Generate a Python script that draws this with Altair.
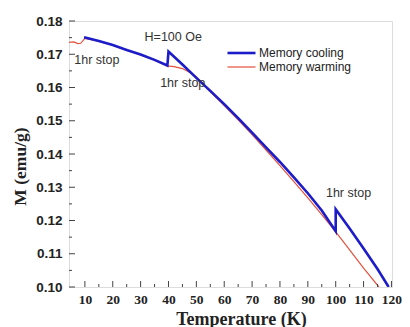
import altair as alt
import pandas as pd

# ---- data ----
series = ["Memory cooling", "Memory warming"]
colors = ["#1c1cc8", "#e5503c"]

# memory cooling (measured from high T downward, with 1 hr stops at 100 K and 40 K)
cool_T = [119, 115, 110, 105, 100, 100, 95, 90, 85, 80, 75, 70, 65, 60, 55, 50, 45, 40, 39.6,
          35, 30, 25, 20, 15, 9.7]
cool_M = [0.1000, 0.1054, 0.1116, 0.1176, 0.1234, 0.1168, 0.1230, 0.1282, 0.1330, 0.1376,
          0.1420, 0.1464, 0.1508, 0.1550, 0.1590, 0.1629, 0.1669, 0.1708, 0.1666,
          0.1683, 0.1699, 0.1713, 0.1728, 0.1740, 0.1751]

# memory warming
warm_T = [4.3, 6, 7.5, 8.5, 10, 15, 20, 25, 30, 35, 39.5, 42, 45, 48, 50, 53.5, 60, 65, 70,
          75, 80, 85, 90, 95, 100, 105, 110, 115.5]
warm_M = [0.1736, 0.1737, 0.1732, 0.1733, 0.1748, 0.1739, 0.1727, 0.1712, 0.1698, 0.1682,
          0.1665, 0.1663, 0.1657, 0.1644, 0.1632, 0.1600, 0.1546, 0.1503, 0.1458, 0.1412,
          0.1365, 0.1317, 0.1268, 0.1218, 0.1166, 0.1112, 0.1057, 0.1000]

x_major = [10, 20, 30, 40, 50, 60, 70, 80, 90, 100, 110, 120]
x_minor = [15, 25, 35, 45, 55, 65, 75, 85, 95, 105, 115]
y_major = [0.10, 0.11, 0.12, 0.13, 0.14, 0.15, 0.16, 0.17, 0.18]
y_minor = [0.105, 0.115, 0.125, 0.135, 0.145, 0.155, 0.165, 0.175]

ann_text = ["H=100 Oe", "1hr stop", "1hr stop", "1hr stop"]
ann_T = [41.7, 14.3, 45.1, 104.6]
ann_M = [0.1752, 0.1683, 0.1614, 0.1283]

# ---- chart ----
W, H = 323, 266
xs = alt.Scale(domain=[4.3, 120.2], nice=False, zero=False)
ys = alt.Scale(domain=[0.10, 0.18], nice=False, zero=False)
cs = alt.Scale(domain=series, range=colors)
sw = alt.Scale(domain=series, range=[2.6, 1.2])

cool = pd.DataFrame({"T": cool_T, "M": cool_M, "i": list(range(len(cool_T))), "s": series[0]})
warm = pd.DataFrame({"T": warm_T, "M": warm_M, "i": list(range(len(warm_T))), "s": series[1]})

legend = alt.Legend(orient="none", legendX=157, legendY=25, title=None, symbolType="stroke",
                    symbolSize=784, symbolStrokeWidth=2, clipHeight=14, labelFont="Liberation Sans",
                    labelFontSize=12, labelColor="#222", labelOffset=2, padding=0, rowPadding=0)

xaxis = alt.Axis(values=x_major, format="d", ticks=False, domain=False, grid=False,
                 labelFont="Liberation Serif", labelFontWeight="bold", labelFontSize=13.5,
                 labelColor="#222", labelPadding=5, labelFlush=False, labelOverlap=False,
                 labelBound=False,
                 title="Temperature (K)", titleFont="Liberation Serif", titleFontWeight="bold",
                 titleFontSize=18, titleColor="#222", titleX=172, titleY=37,
                 titleBaseline="alphabetic")
yaxis = alt.Axis(values=y_major, format=".2f", ticks=False, domain=False, grid=False,
                 labelFont="Liberation Sans", labelFontWeight="bold", labelFontSize=13.5,
                 labelColor="#222", labelPadding=7, labelFlush=False, labelOverlap=False,
                 labelBound=False,
                 title="M (emu/g)", titleFont="Liberation Serif", titleFontWeight="bold",
                 titleFontSize=17.5, titleColor="#222", titleX=-44, titleY=145,
                 titleBaseline="alphabetic")

warm_line = alt.Chart(warm).mark_line(clip=True).encode(
    x=alt.X("T:Q", scale=xs, axis=xaxis),
    y=alt.Y("M:Q", scale=ys, axis=yaxis),
    color=alt.Color("s:N", scale=cs, legend=legend),
    strokeWidth=alt.StrokeWidth("s:N", scale=sw, legend=None),
    order="i:Q",
)
cool_line = alt.Chart(cool).mark_line(clip=True).encode(
    x=alt.X("T:Q", scale=xs, axis=xaxis),
    y=alt.Y("M:Q", scale=ys, axis=yaxis),
    color=alt.Color("s:N", scale=cs, legend=legend),
    strokeWidth=alt.StrokeWidth("s:N", scale=sw, legend=None),
    order="i:Q",
)

xmaj = alt.Chart(pd.DataFrame({"v": x_major})).mark_rule(color="#444", strokeWidth=1).encode(
    x=alt.X("v:Q", scale=xs, axis=xaxis), y=alt.value(H), y2=alt.value(H - 6))
xmin = alt.Chart(pd.DataFrame({"v": x_minor})).mark_rule(color="#444", strokeWidth=1).encode(
    x=alt.X("v:Q", scale=xs, axis=xaxis), y=alt.value(H), y2=alt.value(H - 3))
ymaj = alt.Chart(pd.DataFrame({"v": y_major})).mark_rule(color="#444", strokeWidth=1).encode(
    y=alt.Y("v:Q", scale=ys, axis=yaxis), x=alt.value(0), x2=alt.value(6))
ymin = alt.Chart(pd.DataFrame({"v": y_minor})).mark_rule(color="#444", strokeWidth=1).encode(
    y=alt.Y("v:Q", scale=ys, axis=yaxis), x=alt.value(0), x2=alt.value(3))

ann = alt.Chart(pd.DataFrame({"t": ann_text, "T": ann_T, "M": ann_M})).mark_text(
    font="Liberation Sans", fontSize=12.5, color="#333", align="center", baseline="middle"
).encode(x=alt.X("T:Q", scale=xs, axis=xaxis), y=alt.Y("M:Q", scale=ys, axis=yaxis), text="t:N")

chart = alt.layer(warm_line, cool_line, xmaj, xmin, ymaj, ymin, ann).properties(
    width=W, height=H,
    autosize=alt.AutoSizeParams(type="none"),
    padding={"left": 61, "top": 13, "right": 10, "bottom": 40},
).configure_view(stroke="#555", strokeWidth=1).configure(background="white")

chart.save("out.html", embed_options={"renderer": "svg", "actions": False})
